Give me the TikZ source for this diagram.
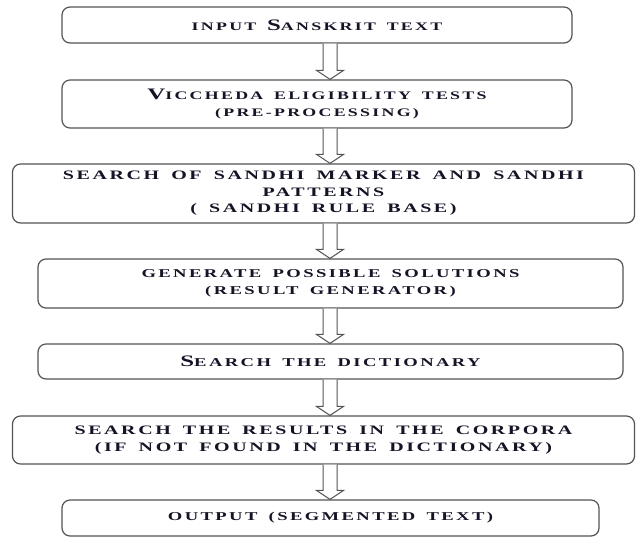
\documentclass[tikz,border=0pt]{standalone}
\usepackage{fontspec}
\setmainfont[LetterSpace=20, FakeStretch=1.55, WordSpace=1.6]{Liberation Serif}
\usetikzlibrary{calc}
\definecolor{edge}{rgb}{0.33,0.33,0.33}
\definecolor{ink}{rgb}{0.08,0.08,0.15}
\newcommand\BL[1]{{\fontsize{16}{16}\selectfont #1}}
\tikzset{
  box/.style={draw=edge, line width=1.2pt, rounded corners=8pt, fill=white,
    align=center, inner sep=0pt, text=ink,
    font=\fontsize{12}{16.5}\selectfont\bfseries},
  smalltext/.style={font=\fontsize{11.5}{16.5}\selectfont\bfseries},
  widetext/.style={font=\fontsize{12.9}{16.5}\selectfont\bfseries},
  arr/.style={draw=edge, line width=1pt, fill=white, line join=miter}
}
\newcommand\blockarrow[2]{%
  \draw[arr] let \p1=(#1.south -| ax), \p2=(#2.north -| ax) in
    (\x1-7pt,\y1) -- (\x1-7pt,\y2+9pt) -- (\x1-13.5pt,\y2+9pt) -- (\x2,\y2)
    -- (\x1+13.5pt,\y2+9pt) -- (\x1+7pt,\y2+9pt) -- (\x1+7pt,\y1);}
\begin{document}
\begin{tikzpicture}[x=1pt,y=-1pt]
\useasboundingbox (0,0) rectangle (636,538);
\coordinate (ax) at (330,0);
\node[box, smalltext, minimum width=510pt, minimum height=36pt] (b1) at (317,25)
  {INPUT \BL{S}ANSKRIT TEXT};
\node[box, smalltext, minimum width=510pt, minimum height=48pt] (b2) at (317,104)
  {\BL{V}ICCHEDA ELIGIBILITY TESTS\\(PRE-PROCESSING)};
\node[box, widetext, minimum width=622pt, minimum height=59pt] (b3) at (323.5,193.5)
  {SEARCH OF SANDHI MARKER AND SANDHI\\PATTERNS\\( SANDHI RULE BASE)};
\node[box, minimum width=585pt, minimum height=49pt] (b4) at (330.5,283.5)
  {GENERATE POSSIBLE SOLUTIONS\\(RESULT GENERATOR)};
\node[box, minimum width=585pt, minimum height=35pt] (b5) at (330.5,361.5)
  {\BL{S}EARCH THE DICTIONARY};
\node[box, widetext, minimum width=622pt, minimum height=48pt] (b6) at (323.5,440)
  {SEARCH THE RESULTS IN THE CORPORA\\(IF NOT FOUND IN THE DICTIONARY)};
\node[box, minimum width=537pt, minimum height=36pt] (b7) at (330.5,518)
  {OUTPUT (SEGMENTED TEXT)};
\blockarrow{b1}{b2}
\blockarrow{b2}{b3}
\blockarrow{b3}{b4}
\blockarrow{b4}{b5}
\blockarrow{b5}{b6}
\blockarrow{b6}{b7}
\end{tikzpicture}
\end{document}
